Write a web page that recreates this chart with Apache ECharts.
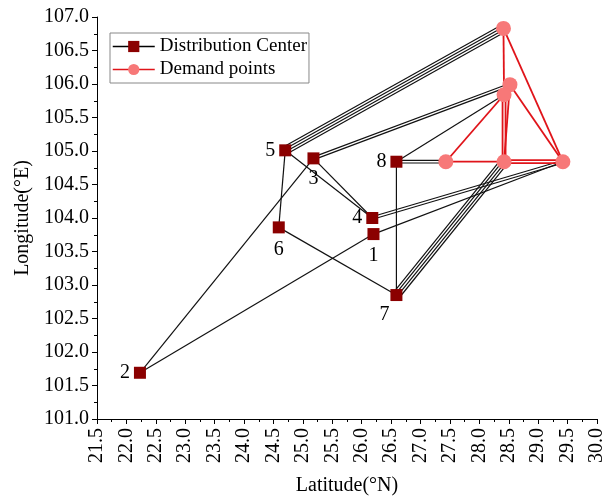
<!DOCTYPE html>
<html>
<head>
<meta charset="utf-8">
<script src="https://cdn.jsdelivr.net/npm/echarts@6/dist/echarts.min.js"></script>
<style>
  html, body { margin: 0; padding: 0; background: #fff; }
  #chart { width: 606px; height: 499px; }
</style>
</head>
<body>
<div id="chart"></div>
<script>
// Distribution centers (latitude, longitude)
const centerNames = ['1', '2', '3', '4', '5', '6', '7', '8'];
const centerLat = [26.20, 22.23, 25.18, 26.18, 24.70, 24.59, 26.59, 26.59];
const centerLon = [103.76, 101.69, 104.89, 104.00, 105.01, 103.86, 102.85, 104.84];

// Demand points (latitude, longitude)
const demandNames = ['A', 'B', 'C', 'D', 'E', 'F'];
const demandLat = [28.41, 28.52, 28.42, 27.43, 28.42, 29.42];
const demandLon = [106.83, 105.99, 105.84, 104.84, 104.84, 104.84];

// Routes: [from, to, number of parallel trips]
const centerRoutes = [
  ['5', 'A', 4], ['3', 'B', 2], ['8', 'C', 1], ['8', 'D', 2], ['8', '7', 1],
  ['5', '6', 1], ['5', '4', 1], ['3', '4', 1], ['3', '2', 1], ['2', '1', 1],
  ['6', '7', 1], ['4', 'F', 2], ['1', 'F', 1], ['7', 'E', 4]
];
const demandRoutes = [
  ['A', 'C', 1], ['A', 'F', 1], ['B', 'F', 1], ['C', 'D', 1], ['C', 'E', 2],
  ['B', 'E', 1], ['D', 'E', 1], ['E', 'F', 2]
];

// Axis ranges
const latMin = 21.5, latMax = 30.0, latStep = 0.5;
const lonMin = 101.0, lonMax = 107.0, lonStep = 0.5;

const FONT = 'Liberation Serif';

function nodePos(name) {
  let i = centerNames.indexOf(name);
  if (i >= 0) return [centerLat[i], centerLon[i]];
  i = demandNames.indexOf(name);
  return [demandLat[i], demandLon[i]];
}

function buildEdges(routes, spacing) {
  const out = [];
  routes.forEach(([a, b, n]) => {
    const p = nodePos(a), q = nodePos(b);
    for (let k = 0; k < n; k++) {
      out.push([p[0], p[1], q[0], q[1], (k - (n - 1) / 2) * spacing]);
    }
  });
  return out;
}

function edgeRenderer(color, width) {
  return function (params, api) {
    const a = api.coord([api.value(0), api.value(1)]);
    const b = api.coord([api.value(2), api.value(3)]);
    const off = api.value(4);
    const dx = b[0] - a[0], dy = b[1] - a[1];
    const len = Math.hypot(dx, dy) || 1;
    const nx = -dy / len * off, ny = dx / len * off;
    return {
      type: 'line',
      shape: { x1: a[0] + nx, y1: a[1] + ny, x2: b[0] + nx, y2: b[1] + ny },
      style: { stroke: color, lineWidth: width }
    };
  };
}

// Label placement for the numbered centers
const labelPlace = {
  '1': { position: 'bottom', distance: 6 },
  '2': { position: 'left', distance: 4 },
  '3': { position: 'bottom', distance: 4 },
  '4': { position: 'left', distance: 4 },
  '5': { position: 'left', distance: 4 },
  '6': { position: 'bottom', distance: 6 },
  '7': { position: 'bottom', distance: 4, offset: [-12, 0] },
  '8': { position: 'left', distance: 4 }
};

const centerData = centerNames.map((n, i) => ({
  value: [centerLat[i], centerLon[i]],
  label: Object.assign({ show: true, formatter: n, color: '#000', fontSize: 20, fontFamily: FONT }, labelPlace[n])
}));
const demandData = demandNames.map((n, i) => ({ value: [demandLat[i], demandLon[i]] }));

const chart = echarts.init(document.getElementById('chart'), null, { renderer: 'canvas' });

chart.setOption({
  backgroundColor: '#fff',
  animation: false,
  grid: { left: 97, right: 9, top: 17, bottom: 80, containLabel: false, outerBoundsMode: 'none' },
  legend: {
    orient: 'vertical',
    left: 110,
    top: 33,
    data: ['Distribution Center', 'Demand points'],
    borderColor: '#888',
    borderWidth: 1,
    borderRadius: 0,
    padding: [4, 2, 4, 2],
    itemWidth: 42,
    itemHeight: 14,
    itemGap: 4,
    lineStyle: { opacity: 1, width: 1.5 },
    textStyle: { fontSize: 19, fontFamily: FONT, color: '#000' }
  },
  xAxis: {
    type: 'value',
    min: latMin, max: latMax, interval: latStep,
    name: 'Latitude(°N)',
    nameLocation: 'middle',
    nameGap: 57,
    nameTextStyle: { fontSize: 20, fontFamily: FONT, color: '#000' },
    axisLine: { show: true, onZero: false, lineStyle: { color: '#000', width: 1 } },
    axisTick: { show: true, length: 5, lineStyle: { color: '#000' } },
    minorTick: { show: true, splitNumber: 2, length: 3, lineStyle: { color: '#000' } },
    splitLine: { show: false },
    axisLabel: {
      rotate: 90, margin: 9, fontSize: 20, fontFamily: FONT, color: '#000',
      formatter: v => v.toFixed(1)
    }
  },
  yAxis: {
    type: 'value',
    min: lonMin, max: lonMax, interval: lonStep,
    name: 'Longitude(°E)',
    nameLocation: 'middle',
    nameGap: 64,
    nameTextStyle: { fontSize: 20, fontFamily: FONT, color: '#000' },
    axisLine: { show: true, onZero: false, lineStyle: { color: '#000', width: 1 } },
    axisTick: { show: true, length: 5, lineStyle: { color: '#000' } },
    minorTick: { show: true, splitNumber: 2, length: 3, lineStyle: { color: '#000' } },
    splitLine: { show: false },
    axisLabel: {
      margin: 8, fontSize: 20, fontFamily: FONT, color: '#000',
      formatter: v => v.toFixed(1)
    }
  },
  series: [
    {
      type: 'custom',
      name: 'center routes',
      renderItem: edgeRenderer('#111', 1.2),
      data: buildEdges(centerRoutes, 2.6),
      encode: { x: [0, 2], y: [1, 3] },
      silent: true, z: 1
    },
    {
      type: 'custom',
      name: 'demand routes',
      renderItem: edgeRenderer('#e0141a', 1.8),
      data: buildEdges(demandRoutes, 3),
      encode: { x: [0, 2], y: [1, 3] },
      silent: true, z: 2
    },
    {
      type: 'line',
      name: 'Distribution Center',
      data: centerData,
      symbol: 'rect',
      symbolSize: 12,
      showAllSymbol: true,
      itemStyle: { color: '#8b0000' },
      lineStyle: { color: '#000', width: 1.5, opacity: 0 },
      z: 5
    },
    {
      type: 'line',
      name: 'Demand points',
      data: demandData,
      symbol: 'circle',
      symbolSize: 15,
      showAllSymbol: true,
      itemStyle: { color: '#f77878' },
      lineStyle: { color: '#e0141a', width: 1.5, opacity: 0 },
      z: 4
    }
  ]
});
</script>
</body>
</html>
